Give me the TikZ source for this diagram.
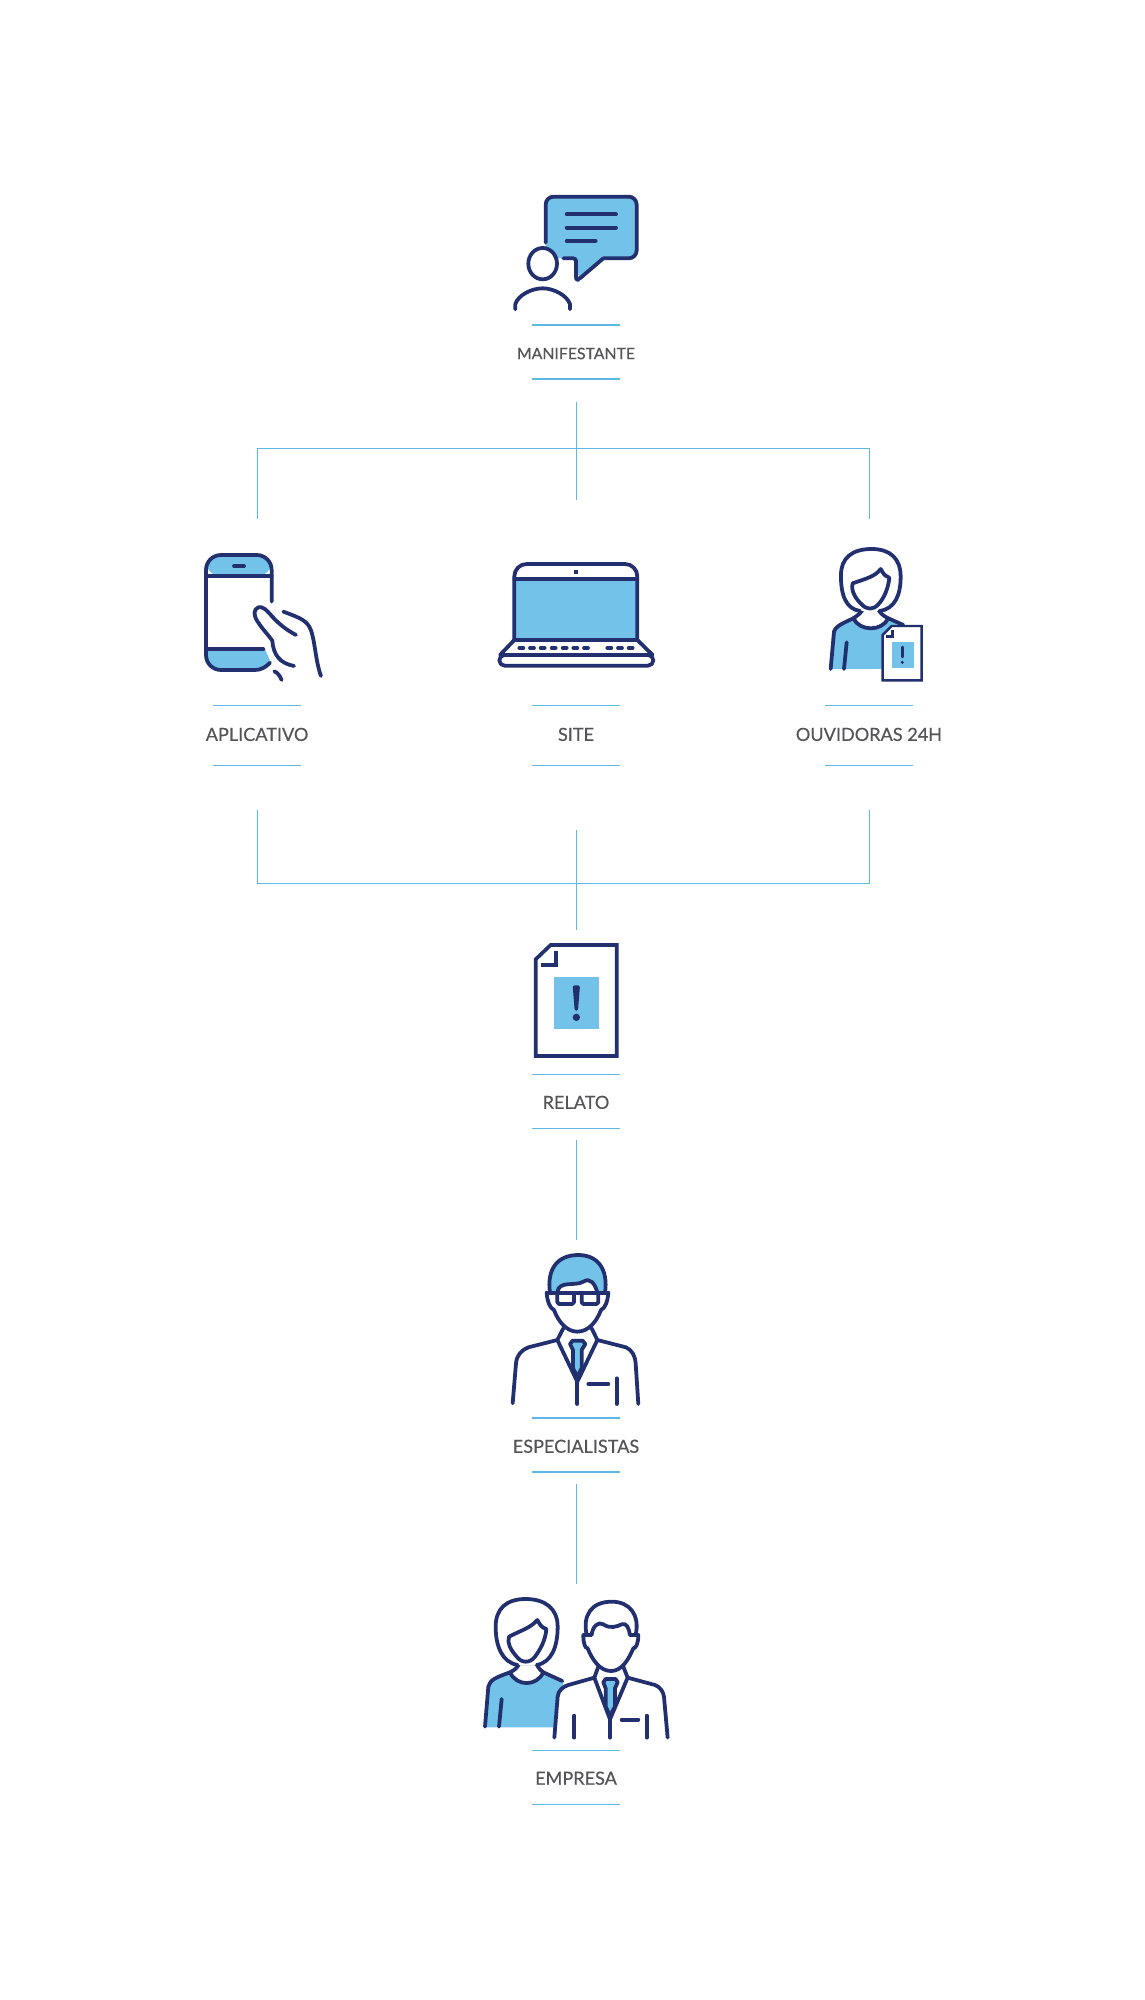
\documentclass[tikz,border=0pt]{standalone}
\usepackage{fontspec}
\setmainfont{Lato}
\newfontfamily\labelfont{Lato}[FakeBold=0.35]
\usetikzlibrary{positioning}
\definecolor{navy}{RGB}{35,48,112}
\definecolor{skyfill}{RGB}{114,194,234}
\definecolor{skyline}{RGB}{93,184,230}
\definecolor{greytext}{RGB}{85,85,87}
\newcommand{\labelrules}[3]{%
    \draw[rule_line] ([shift={(-44,#3-#2)}]#1.center) -- ([shift={(44,#3-#2)}]#1.center);
    \draw[rule_line] ([shift={(-44,#3+#2)}]#1.center) -- ([shift={(44,#3+#2)}]#1.center);
}
\begin{document}
\begin{tikzpicture}[
    x=0.02cm, y=-0.02cm,
    on grid,
    label_text/.style={text=greytext, font=\labelfont\fontsize{10.3pt}{12pt}\selectfont, inner sep=0pt, align=center},
    small_text/.style={label_text, font=\labelfont\fontsize{9pt}{10pt}\selectfont},
    rule_line/.style={draw=skyline, line width=0.6pt},
    link_line/.style={draw=skyline, line width=0.55pt},
    icon_line/.style={draw=navy, line width=2.15pt, line cap=round, line join=round},
    thin_line/.style={draw=navy, line width=1.4pt, line join=miter},
    zoomed/.style={shift={#1}, scale=0.3333}
]
    \useasboundingbox (0,0) rectangle (1145,2000);

    % Labels
    \node (manifestante) [small_text] at (576,353.5) {MANIFESTANTE};
    \node (site) [label_text, below=7.62cm of manifestante] {SITE};
    \node (aplicativo) [label_text, left=6.38cm of site] {APLICATIVO};
    \node (ouvidoras) [label_text, right=5.86cm of site] {OUVIDORAS 24H};
    \node (relato) [label_text, below=7.36cm of site] {RELATO};
    \node (especialistas) [label_text, below=6.88cm of relato] {ESPECIALISTAS};
    \node (empresa) [label_text, below=6.64cm of especialistas] {EMPRESA};

    % Rules
    \labelrules{manifestante}{27}{-1.5}
    \labelrules{aplicativo}{30}{1}
    \labelrules{site}{30}{1}
    \labelrules{ouvidoras}{30}{1}
    \labelrules{relato}{27}{-1.2}
    \labelrules{especialistas}{27}{-1.3}
    \labelrules{empresa}{27}{-1.2}

    % Connector ends
    \coordinate (man_out) at (576.5,402);
    \coordinate (bus_top) at (576.5,448.5);
    \coordinate (site_in) at (576.5,500);
    \coordinate (app_in) at (257.5,519);
    \coordinate (ouv_in) at (869.5,519);
    \coordinate (app_out) at (257.5,810);
    \coordinate (ouv_out) at (869.5,810);
    \coordinate (site_out) at (576.5,830);
    \coordinate (bus_low) at (576.5,883.5);
    \coordinate (rel_in) at (576.5,930);
    \coordinate (rel_out) at (576.5,1140);
    \coordinate (esp_in) at (576.5,1240);
    \coordinate (esp_out) at (576.5,1484);
    \coordinate (emp_in) at (576.5,1584);

    % Connectors
    \draw[link_line] (man_out) -- (site_in);
    \draw[link_line] (app_in) |- (bus_top) -| (ouv_in);
    \draw[link_line] (app_out) |- (bus_low) -| (ouv_out);
    \draw[link_line] (site_out) -- (rel_in);
    \draw[link_line] (rel_out) -- (esp_in);
    \draw[link_line] (esp_out) -- (emp_in);

    % Manifestante icon
    \begin{scope}[zoomed={(480,180)}]
        \fill[skyfill, rounded corners=4.5pt] (197,50) -- (470,50) -- (470,235) -- (370,235) -- (295,300) -- (288,235) -- (197,235) -- cycle;
        \draw[icon_line, rounded corners=4.5pt] (197,188) -- (197,50) -- (470,50) -- (470,235) -- (370,235);
        \draw[icon_line, rounded corners=1.5pt] (370,235) -- (294,300) -- (288,296) -- (288,235) -- (250,235);
        \draw[icon_line] (260,103) -- (408,103);
        \draw[icon_line] (260,143) -- (408,143);
        \draw[icon_line] (260,183) -- (347,183);
        \draw[icon_line, fill=white] (188,251) ellipse (43 and 47);
        \draw[icon_line] (106,388) -- (106,372) .. controls (115,345) and (155,325) .. (188,325) .. controls (220,325) and (260,345) .. (270,372) -- (270,388);
    \end{scope}

    % Aplicativo icon
    \begin{scope}[zoomed={(190,530)}]
        \fill[skyfill, rounded corners=8pt] (48,138) -- (48,75) -- (245,75) -- (245,138) -- cycle;
        \fill[skyfill] (48,358) -- (225,358) -- (242,396) .. controls (225,415) and (210,420) .. (195,420) -- (93,420) .. controls (65,420) and (48,400) .. (48,375) -- cycle;
        \draw[icon_line] (245,215) -- (245,120) .. controls (245,95) and (225,75) .. (200,75) -- (93,75) .. controls (68,75) and (48,95) .. (48,120) -- (48,375) .. controls (48,400) and (68,420) .. (93,420) -- (195,420) .. controls (212,420) and (228,412) .. (240,398);
        \draw[icon_line] (48,138) -- (245,138);
        \draw[icon_line] (48,358) -- (220,358);
        \draw[icon_line] (132,108) -- (162,108);
        \draw[icon_line] (318,315) .. controls (290,300) and (270,285) .. (245,258) .. controls (230,240) and (218,228) .. (205,232) .. controls (190,238) and (190,255) .. (203,275) .. controls (218,298) and (235,315) .. (247,332) .. controls (250,375) and (270,400) .. (312,408);
        \draw[icon_line] (280,245) .. controls (320,260) and (345,268) .. (358,290) .. controls (375,320) and (375,390) .. (393,438);
        \draw[icon_line] (253,424) .. controls (263,428) and (270,438) .. (275,450);
    \end{scope}

    % Site icon
    \begin{scope}[zoomed={(480,540)}]
        \fill[skyfill] (103,118) rectangle (472,300);
        \draw[icon_line, rounded corners=7pt] (103,300) -- (103,72) -- (472,72) -- (472,300);
        \draw[icon_line] (103,118) -- (472,118);
        \draw[icon_line] (103,300) -- (472,300);
        \fill[navy] (282,90) rectangle (295,102);
        \draw[icon_line] (103,300) -- (60,345);
        \draw[icon_line] (472,300) -- (518,345);
        \draw[icon_line, rounded corners=3pt] (58,345) rectangle (520,377);
        \foreach \keyx in {124,156,188,221,254,286,318,388,420,452}
            \draw[icon_line] (\keyx-6,324) -- (\keyx+6,324);
    \end{scope}

    % Ouvidoras icon
    \begin{scope}[zoomed={(810,535)}]
        \fill[skyfill] (60,402) -- (72,290) .. controls (75,278) and (85,268) .. (130,250) -- (235,250) -- (285,272) -- (285,402) -- cycle;
        \draw[icon_line] (62,402) -- (72,290) .. controls (75,278) and (85,270) .. (130,250);
        \draw[icon_line, fill=white] (130,250) .. controls (145,240) and (155,232) .. (158,222) -- (205,222) .. controls (208,232) and (218,242) .. (235,250) .. controls (215,290) and (150,290) .. (130,250);
        \draw[icon_line] (235,250) -- (280,270);
        \draw[icon_line] (110,322) -- (102,402);
        \draw[icon_line, fill=white] (150,228) .. controls (108,222) and (92,180) .. (93,120) .. controls (93,70) and (125,42) .. (185,42) .. controls (240,42) and (272,70) .. (272,125) .. controls (272,180) and (255,222) .. (208,228);
        \draw[icon_line, fill=white] (128,145) .. controls (170,130) and (195,125) .. (212,102) .. controls (218,110) and (220,122) .. (238,128) .. controls (235,160) and (222,190) .. (205,208) .. controls (190,225) and (170,225) .. (155,208) .. controls (135,190) and (122,165) .. (128,145) -- cycle;
        \draw[thin_line, fill=white] (218,300) -- (245,273) -- (335,273) -- (335,436) -- (218,436) -- cycle;
        \draw[thin_line] (228,305) -- (248,305) -- (248,285);
        \fill[skyfill] (245,320) rectangle (312,400);
        \draw[icon_line, line width=1.5pt] (277,336) -- (277,366);
        \fill[navy] (277,382) circle (5);
    \end{scope}

    % Relato icon
    \begin{scope}[zoomed={(500,930)}]
        \draw[navy, line width=2.1pt, line join=miter] (107,88) -- (152,45) -- (350,45) -- (350,378) -- (107,378) -- cycle;
        \draw[navy, line width=2.1pt, line join=miter] (122,105) -- (168,105) -- (168,62);
        \fill[skyfill] (162,140) rectangle (296,298);
        \fill[navy, rounded corners=1.2pt] (218,166) -- (240,166) -- (234,242) -- (224,242) -- cycle;
        \fill[navy] (229,262) circle (11);
    \end{scope}

    % Especialistas icon
    \begin{scope}[zoomed={(500,1240)}]
        \fill[skyfill] (150,158) .. controls (140,90) and (170,45) .. (235,45) .. controls (295,45) and (325,90) .. (315,158) -- (292,158) .. controls (285,130) and (270,112) .. (250,125) .. controls (225,140) and (175,120) .. (172,158) -- cycle;
        \draw[icon_line] (150,158) .. controls (140,90) and (170,45) .. (235,45) .. controls (295,45) and (325,90) .. (315,158);
        \draw[icon_line] (172,158) .. controls (175,120) and (225,140) .. (250,125) .. controls (270,112) and (285,130) .. (292,158);
        \draw[icon_line] (140,158) -- (325,158);
        \draw[icon_line, rounded corners=1pt] (172,158) -- (172,192) -- (222,192) -- (222,158);
        \draw[icon_line, rounded corners=1pt] (245,158) -- (245,192) -- (295,192) -- (295,158);
        \draw[icon_line] (140,158) .. controls (142,185) and (150,205) .. (162,210) .. controls (175,245) and (200,275) .. (232,275) .. controls (265,275) and (290,245) .. (303,210) .. controls (315,205) and (323,185) .. (325,158);
        \draw[icon_line] (190,265) -- (172,300);
        \draw[icon_line] (275,265) -- (292,300);
        \draw[icon_line] (38,490) -- (48,370) .. controls (50,345) and (65,330) .. (85,322) -- (172,300) -- (232,425) -- (292,300) -- (378,322) .. controls (395,330) and (405,345) .. (407,370) -- (415,492);
        \draw[icon_line] (232,425) -- (232,492);
        \draw[icon_line, fill=skyfill] (210,312) -- (218,302) -- (248,302) -- (256,312) -- (245,330) -- (245,385) -- (232,410) -- (219,385) -- (219,330) -- cycle;
        \draw[icon_line] (265,432) -- (325,432);
        \draw[icon_line] (350,415) -- (350,492);
    \end{scope}

    % Empresa icon
    \begin{scope}[zoomed={(475,1585)}]
        \fill[skyfill] (28,427) -- (40,300) .. controls (45,285) and (55,280) .. (105,262) -- (205,262) -- (265,288) -- (265,427) -- cycle;
        \draw[icon_line] (30,425) -- (40,305) .. controls (45,285) and (60,278) .. (105,262);
        \draw[icon_line, fill=white] (105,262) .. controls (120,255) and (130,245) .. (132,235) -- (185,235) .. controls (187,245) and (195,255) .. (205,262) .. controls (185,305) and (125,305) .. (105,262);
        \draw[icon_line] (205,262) -- (262,288);
        \draw[icon_line] (80,342) -- (72,425);
        \draw[icon_line, fill=white] (128,240) .. controls (82,232) and (62,185) .. (62,125) .. controls (62,70) and (95,42) .. (152,42) .. controls (210,42) and (248,70) .. (248,125) .. controls (248,185) and (230,232) .. (185,240);
        \draw[icon_line, fill=white] (102,155) .. controls (140,135) and (165,130) .. (187,105) .. controls (193,115) and (198,128) .. (214,132) .. controls (212,165) and (195,195) .. (180,215) .. controls (165,235) and (140,235) .. (125,215) .. controls (108,195) and (95,175) .. (102,155) -- cycle;
        \fill[white] (238,458) -- (248,335) .. controls (250,315) and (265,305) .. (280,300) -- (358,278) -- (458,278) -- (540,300) .. controls (555,305) and (565,320) .. (567,335) -- (578,458) -- cycle;
        \draw[icon_line] (238,458) -- (248,335) .. controls (250,315) and (265,305) .. (280,300) -- (358,278) -- (405,403) -- (458,278) -- (540,300) .. controls (555,305) and (565,320) .. (567,335) -- (578,458);
        \draw[icon_line, fill=white] (335,150) .. controls (322,90) and (350,50) .. (410,50) .. controls (465,50) and (495,90) .. (482,150) -- (490,150) .. controls (490,175) and (483,190) .. (475,190) .. controls (460,225) and (440,258) .. (408,258) .. controls (375,258) and (352,225) .. (338,190) .. controls (330,190) and (325,175) .. (325,150) -- cycle;
        \draw[icon_line] (335,150) -- (350,150) .. controls (352,125) and (370,108) .. (385,118) .. controls (405,132) and (425,125) .. (440,118) .. controls (455,112) and (462,130) .. (465,150) -- (482,150);
        \draw[icon_line] (370,245) -- (358,278);
        \draw[icon_line] (445,245) -- (458,278);
        \draw[icon_line, fill=skyfill] (385,292) -- (392,282) -- (422,282) -- (428,292) -- (420,310) -- (420,365) -- (405,392) -- (392,365) -- (392,310) -- cycle;
        \draw[icon_line] (405,403) -- (405,458);
        \draw[icon_line] (440,404) -- (490,404);
        \draw[icon_line] (515,392) -- (515,458);
        \draw[icon_line] (298,392) -- (298,458);
    \end{scope}

\end{tikzpicture}
\end{document}
